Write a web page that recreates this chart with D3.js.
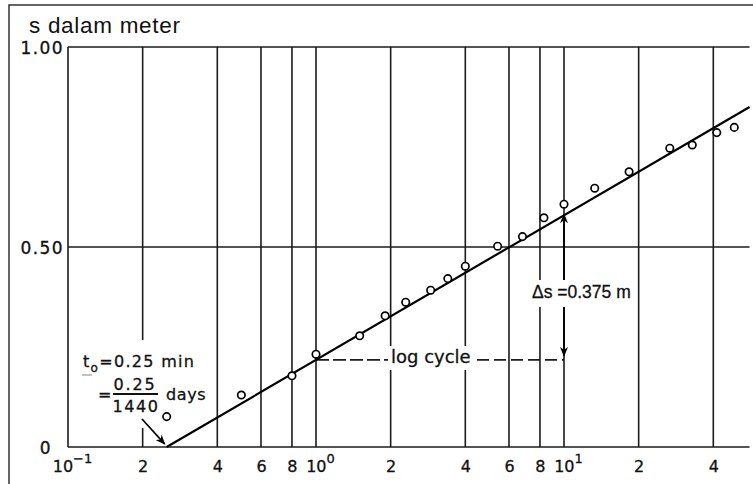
<!DOCTYPE html>
<html>
<head>
<meta charset="utf-8">
<script src="https://cdn.jsdelivr.net/npm/d3@7"></script>
<style>
  body { margin: 0; background: #fff; }
  svg { display: block; }
</style>
</head>
<body>
<svg id="chart" width="753" height="484"></svg>
<script>
// waktu t (menit) dan penurunan muka air s (meter)
const timeMin = [0.25, 0.5, 0.8, 1.0, 1.5, 1.9, 2.3, 2.9, 3.4, 4.0, 5.4, 6.8, 8.3, 10, 13.3, 18.3, 26.7, 32.9, 41.3, 48.6];
const drawdown = [0.076, 0.130, 0.178, 0.232, 0.278, 0.328, 0.362, 0.392, 0.421, 0.452, 0.502, 0.526, 0.573, 0.607, 0.647, 0.688, 0.747, 0.755, 0.786, 0.799];

// garis lurus hasil pencocokan
const fitTime = [0.25, 56];
const fitDrawdown = [0, 0.85];

const gridTimes = [0.1, 0.2, 0.4, 0.6, 0.8, 1, 2, 4, 6, 8, 10, 20, 40];
const gridDrawdown = [0, 0.5, 1.0];
const timeMax = 56;

const xTickValues = [0.1, 0.2, 0.4, 0.6, 0.8, 1, 2, 4, 6, 8, 10, 20, 40];
const xTickLabels = ["10^-1", "2", "4", "6", "8", "10^0", "2", "4", "6", "8", "10^1", "2", "4"];
const yTickValues = [0, 0.5, 1.0];
const yTickLabels = ["0", "0.50", "1.00"];

const deltaS = "0.375";

const svg = d3.select("#chart");
const annoFont = "DejaVu Sans, sans-serif";
const ink = "#1b1b1b";

const x = d3.scaleLog().domain([0.1, 10]).range([68, 564]);
const y = d3.scaleLinear().domain([0, 1]).range([447, 47]);

const fitAt = t => fitDrawdown[0] + (fitDrawdown[1] - fitDrawdown[0]) *
    Math.log10(t / fitTime[0]) / Math.log10(fitTime[1] / fitTime[0]);

// bingkai luar (hasil pindaian)
svg.append("path")
    .attr("d", "M9,484V5H753")
    .attr("fill", "none")
    .attr("stroke", "#333")
    .attr("stroke-width", 1.5);

svg.append("text")
    .attr("x", 29)
    .attr("y", 32.5)
    .attr("font-family", "Liberation Sans, Arial, sans-serif")
    .attr("font-size", 22.5)
    .attr("letter-spacing", 0.7)
    .attr("fill", "#111")
    .text("s dalam meter");

// grid
const grid = svg.append("g").attr("stroke", ink).attr("stroke-width", 1.6);
grid.selectAll(".vline")
    .data(gridTimes)
    .join("line")
    .attr("class", "vline")
    .attr("x1", d => x(d)).attr("x2", d => x(d))
    .attr("y1", y(0)).attr("y2", y(1));
grid.selectAll(".hline")
    .data(gridDrawdown)
    .join("line")
    .attr("class", "hline")
    .attr("x1", x(0.1)).attr("x2", x(timeMax))
    .attr("y1", d => y(d)).attr("y2", d => y(d));

// sumbu x
const xAxis = svg.append("g")
    .attr("transform", `translate(0, ${y(0)})`)
    .call(d3.axisBottom(x).tickValues(xTickValues).tickSize(0).tickFormat((d, i) => xTickLabels[i]));
xAxis.select(".domain").remove();
xAxis.selectAll("text")
    .attr("y", 25)
    .attr("dy", null)
    .attr("fill", "#111")
    .attr("stroke", "#111")
    .attr("stroke-width", 0.3)
    .attr("font-family", annoFont)
    .attr("font-size", 16)
    .each(function(d, i) {
        const lab = xTickLabels[i];
        if (lab.includes("^")) {
            const [base, exp] = lab.split("^");
            const t = d3.select(this).text(null).attr("x", 4);
            t.append("tspan").text(base);
            t.append("tspan").attr("dy", -9).attr("font-size", 13).text(exp.replace("-", "\u2212"));
        }
    });

// sumbu y
const yAxis = svg.append("g")
    .attr("transform", `translate(${x(0.1)}, 0)`)
    .call(d3.axisLeft(y).tickValues(yTickValues).tickSize(0).tickPadding(5).tickFormat((d, i) => yTickLabels[i]));
yAxis.select(".domain").remove();
yAxis.selectAll("text")
    .attr("fill", "#111")
    .attr("stroke", "#111")
    .attr("stroke-width", 0.3)
    .attr("font-family", annoFont)
    .attr("font-size", 17)
    .attr("letter-spacing", 1.4)
    .attr("x", d => d === 0 ? -16 : -4)
    .attr("dy", d => d === 0 ? "0.4em" : "0.38em");

// latar putih di bawah keterangan
const boxes = svg.append("g").attr("fill", "#fff");
boxes.append("rect").attr("x", 74).attr("y", 340).attr("width", 138).attr("height", 88);
boxes.append("rect").attr("x", 530).attr("y", 280).attr("width", 102).attr("height", 27);
boxes.append("rect").attr("x", 388).attr("y", 346).attr("width", 88).attr("height", 24);

// garis log cycle
const cycleY = y(fitAt(1));
svg.append("line")
    .attr("x1", x(1)).attr("x2", 388)
    .attr("y1", cycleY).attr("y2", cycleY)
    .attr("stroke", ink).attr("stroke-width", 1.6)
    .attr("stroke-dasharray", "13,4");
svg.append("line")
    .attr("x1", 477).attr("x2", x(10))
    .attr("y1", cycleY).attr("y2", cycleY)
    .attr("stroke", ink).attr("stroke-width", 1.6)
    .attr("stroke-dasharray", "12,5");

// garis pencocokan
svg.append("path")
    .datum(fitTime.map((t, i) => [t, fitDrawdown[i]]))
    .attr("d", d3.line().x(d => x(d[0])).y(d => y(d[1])))
    .attr("fill", "none")
    .attr("stroke", "#000")
    .attr("stroke-width", 2.2);

// titik data
svg.selectAll(".pt")
    .data(timeMin.map((t, i) => [t, drawdown[i]]))
    .join("circle")
    .attr("class", "pt")
    .attr("cx", d => x(d[0]))
    .attr("cy", d => y(d[1]))
    .attr("r", 3.7)
    .attr("fill", "#fff")
    .attr("stroke", "#000")
    .attr("stroke-width", 1.7);

// panah
svg.append("defs").append("marker")
    .attr("id", "head")
    .attr("viewBox", "0 0 10 8")
    .attr("refX", 9).attr("refY", 4)
    .attr("markerWidth", 10).attr("markerHeight", 8)
    .attr("markerUnits", "userSpaceOnUse")
    .attr("orient", "auto")
    .append("path")
    .attr("d", "M0,0L10,4L0,8L3,4Z")
    .attr("fill", "#000");

const arrows = svg.append("g").attr("stroke", "#000").attr("stroke-width", 1.8);
arrows.append("line")
    .attr("x1", 142).attr("y1", 419)
    .attr("x2", x(fitTime[0]) - 2).attr("y2", y(0) - 3)
    .attr("marker-end", "url(#head)");
arrows.append("line")
    .attr("x1", x(10)).attr("y1", 280)
    .attr("x2", x(10)).attr("y2", y(fitAt(10)) - 1)
    .attr("marker-end", "url(#head)");
arrows.append("line")
    .attr("x1", x(10)).attr("y1", 307)
    .attr("x2", x(10)).attr("y2", cycleY - 4)
    .attr("marker-end", "url(#head)");

// keterangan
const notes = svg.append("g")
    .attr("font-family", annoFont)
    .attr("font-size", 16)
    .attr("fill", "#111")
    .attr("stroke", "#111")
    .attr("stroke-width", 0.3);

const t0 = notes.append("text").attr("x", 83).attr("y", 367).attr("letter-spacing", 1.3);
t0.append("tspan").text("t");
t0.append("tspan").attr("dy", 5).attr("font-size", 12).text("o");
t0.append("tspan").attr("dy", -5).text("=0.25 min");
notes.append("line")
    .attr("x1", 82).attr("x2", 92).attr("y1", 375).attr("y2", 375)
    .attr("stroke", "#999").attr("stroke-width", 1.2);

notes.append("text").attr("x", 98).attr("y", 400).text("=");
notes.append("text").attr("x", 135).attr("y", 390).attr("text-anchor", "middle")
    .attr("letter-spacing", 1.8).text(fitTime[0].toFixed(2));
notes.append("line")
    .attr("x1", 113).attr("x2", 158).attr("y1", 394).attr("y2", 394)
    .attr("stroke-width", 1.8);
notes.append("text").attr("x", 136).attr("y", 412).attr("text-anchor", "middle")
    .attr("letter-spacing", 1.6).text("1440");
notes.append("text").attr("x", 166).attr("y", 400).attr("letter-spacing", 0.6).text("days");

notes.append("text").attr("x", 391).attr("y", 363).attr("font-size", 18).text("log cycle");
notes.append("text").attr("x", 532).attr("y", 298)
    .attr("font-family", "Liberation Sans, Arial, sans-serif")
    .attr("font-size", 17.5)
    .text("\u0394s =" + deltaS + " m");
</script>
</body>
</html>
